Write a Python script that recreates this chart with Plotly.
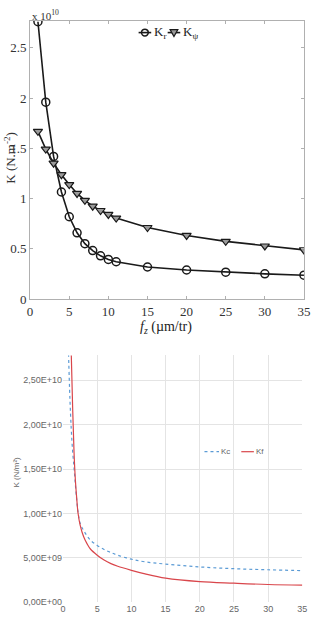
import plotly.graph_objects as go

# ---- Top chart data (MATLAB style), K in units of 1e10 ----
fz_top = [1, 2, 3, 4, 5, 6, 7, 8, 9, 10, 11, 15, 20, 25, 30, 35]
K_r = [2.76, 1.96, 1.42, 1.066, 0.82, 0.66, 0.552, 0.483, 0.431, 0.395, 0.372, 0.32, 0.29, 0.268, 0.252, 0.238]
K_psi = [1.67, 1.493, 1.353, 1.238, 1.14, 1.052, 0.983, 0.925, 0.882, 0.843, 0.807, 0.713, 0.634, 0.575, 0.529, 0.49]
top_yticks = [0, 0.5, 1, 1.5, 2, 2.5]
top_xticks = [0, 5, 10, 15, 20, 25, 30, 35]

# ---- Bottom chart data (Excel style) ----
fz_c = [0.8, 1.0, 1.2, 1.4, 1.6, 1.8, 2.0, 2.2, 2.5, 3, 3.5, 4, 5, 6, 7, 8, 10, 12, 15, 20, 25, 30, 35]
K_c = [2.80e10, 2.30e10, 1.95e10, 1.70e10, 1.52e10, 1.33e10, 1.15e10, 1.01e10, 8.9e9, 8.1e9, 7.5e9, 7.0e9,
       6.4e9, 5.95e9, 5.6e9, 5.3e9, 4.85e9, 4.55e9, 4.3e9, 3.98e9, 3.78e9, 3.66e9, 3.56e9]
fz_f = [1.2, 1.4, 1.6, 1.8, 2.0, 2.2, 2.5, 3, 3.5, 4, 5, 6, 7, 8, 10, 12, 15, 20, 25, 30, 35]
K_f = [2.80e10, 2.20e10, 1.70e10, 1.38e10, 1.17e10, 1.0e10, 8.7e9, 7.4e9, 6.6e9, 6.0e9, 5.3e9, 4.75e9,
       4.35e9, 4.05e9, 3.6e9, 3.2e9, 2.72e9, 2.33e9, 2.15e9, 2.0e9, 1.93e9]
bot_yticks = [0, 5e9, 1e10, 1.5e10, 2e10, 2.5e10]
bot_yticklabels = ["0,00E+00", "5,00E+09", "1,00E+10", "1,50E+10", "2,00E+10", "2,50E+10"]
bot_xticks = [0, 5, 10, 15, 20, 25, 30, 35]

W, H = 319, 631
def px(x):
    return x / W
def py(y):
    return (H - y) / H

serif = "Liberation Serif, Times New Roman, serif"
sans = "Liberation Sans, Arial, sans-serif"

DARK = "#1a1a1a"
BLUE = "#5b9bd5"
RED = "#d9464b"

fig = go.Figure()

fig.add_trace(go.Scatter(
    x=fz_top, y=K_r, mode="lines+markers", name="K<sub>r</sub>",
    line=dict(color=DARK, width=1.6),
    marker=dict(symbol="circle-open", size=8, color=DARK, line=dict(width=1.5)),
    xaxis="x", yaxis="y", showlegend=False))
fig.add_trace(go.Scatter(
    x=fz_top, y=K_psi, mode="lines+markers", name="K<sub>ψ</sub>",
    line=dict(color=DARK, width=1.6),
    marker=dict(symbol="triangle-down", size=8, color="#9a9a9a", line=dict(width=1.2, color=DARK)),
    xaxis="x", yaxis="y", showlegend=False))

fig.add_trace(go.Scatter(
    x=fz_c, y=K_c, mode="lines", name="Kc", line_shape="spline",
    line=dict(color=BLUE, width=1.2, dash="dot"),
    xaxis="x2", yaxis="y2", showlegend=False))
fig.add_trace(go.Scatter(
    x=fz_f, y=K_f, mode="lines", name="Kf", line_shape="spline",
    line=dict(color=RED, width=1.2),
    xaxis="x2", yaxis="y2", showlegend=False))

axis_top = dict(showline=True, linecolor="#b0b0b0", linewidth=1, mirror="ticks",
                ticks="inside", ticklen=3, tickcolor="#b0b0b0", showgrid=False, zeroline=False,
                tickfont=dict(family=serif, size=13, color="#333"))

fig.update_layout(
    width=W, height=H, margin=dict(l=0, r=0, t=0, b=0),
    paper_bgcolor="white", plot_bgcolor="white",
    xaxis=dict(domain=[px(28), px(310.7)], range=[0, 35], tickvals=top_xticks,
               anchor="y", **axis_top),
    yaxis=dict(domain=[py(303), py(21)], range=[0, 2.77], tickvals=top_yticks,
               anchor="x", **axis_top),
    xaxis2=dict(domain=[px(62), px(309)], range=[0, 35], tickvals=bot_xticks, anchor="y2",
                showgrid=True, gridcolor="#e4e4e4", gridwidth=1, zeroline=False, showline=False,
                ticks="", tickfont=dict(family=sans, size=9, color="#666")),
    yaxis2=dict(domain=[py(610), py(360)], range=[0, 2.78e10], tickvals=bot_yticks,
                ticktext=bot_yticklabels, anchor="x2",
                showgrid=True, gridcolor="#e4e4e4", gridwidth=1, zeroline=False, showline=False,
                ticks="", tickfont=dict(family=sans, size=9, color="#666")),
    showlegend=False,
)

# ---- custom legend, top chart ----
ly = py(33)
fig.add_shape(type="line", xref="paper", yref="paper", x0=px(140), x1=px(153), y0=ly, y1=ly,
              line=dict(color=DARK, width=1.6))
fig.add_shape(type="circle", xref="paper", yref="paper", x0=px(143), x1=px(150),
              y0=py(36.5), y1=py(29.5), line=dict(color=DARK, width=1.5))
fig.add_annotation(x=px(154), y=ly, xref="paper", yref="paper", xanchor="left", yanchor="middle",
                   text="K<sub>r</sub>", showarrow=False, font=dict(family=serif, size=13, color="#222"))
fig.add_shape(type="line", xref="paper", yref="paper", x0=px(170), x1=px(183), y0=ly, y1=ly,
              line=dict(color=DARK, width=1.6))
fig.add_shape(type="path", xref="paper", yref="paper",
              path=f"M {px(172.5)},{py(30)} L {px(180.5)},{py(30)} L {px(176.5)},{py(37)} Z",
              fillcolor="#9a9a9a", line=dict(color=DARK, width=1.2))
fig.add_annotation(x=px(184), y=ly, xref="paper", yref="paper", xanchor="left", yanchor="middle",
                   text="K<sub>ψ</sub>", showarrow=False, font=dict(family=serif, size=13, color="#222"))

# ---- custom legend, bottom chart ----
by = py(457.5)
fig.add_shape(type="line", xref="paper", yref="paper", x0=px(208), x1=px(223), y0=by, y1=by,
              line=dict(color=BLUE, width=1.2, dash="dot"))
fig.add_annotation(x=px(223.5), y=by, xref="paper", yref="paper", xanchor="left", yanchor="middle",
                   text="Kc", showarrow=False, font=dict(family=sans, size=8, color="#666"))
fig.add_shape(type="line", xref="paper", yref="paper", x0=px(246), x1=px(259), y0=by, y1=by,
              line=dict(color=RED, width=1.2))
fig.add_annotation(x=px(259.5), y=by, xref="paper", yref="paper", xanchor="left", yanchor="middle",
                   text="Kf", showarrow=False, font=dict(family=sans, size=8, color="#666"))

# ---- axis titles / labels ----
fig.add_annotation(x=px(28), y=py(6), xref="paper", yref="paper", xanchor="left", yanchor="top",
                   text="x 10<sup>10</sup>", showarrow=False,
                   font=dict(family=serif, size=11, color="#333"))
fig.add_annotation(x=px(7), y=py(160), xref="paper", yref="paper", xanchor="center", yanchor="middle",
                   text="K (N.m<sup>-2</sup>)", textangle=-90, showarrow=False,
                   font=dict(family=serif, size=13, color="#333"))
fig.add_annotation(x=px(168), y=py(332), xref="paper", yref="paper", xanchor="center", yanchor="middle",
                   text="<i>f<sub>z</sub></i> (µm/tr)", showarrow=False,
                   font=dict(family=serif, size=14, color="#222"))
fig.add_annotation(x=px(14), y=py(478), xref="paper", yref="paper", xanchor="center", yanchor="middle",
                   text="K (N/m²)", textangle=-90, showarrow=False,
                   font=dict(family=sans, size=8, color="#666"))

fig.write_html("out.html")
